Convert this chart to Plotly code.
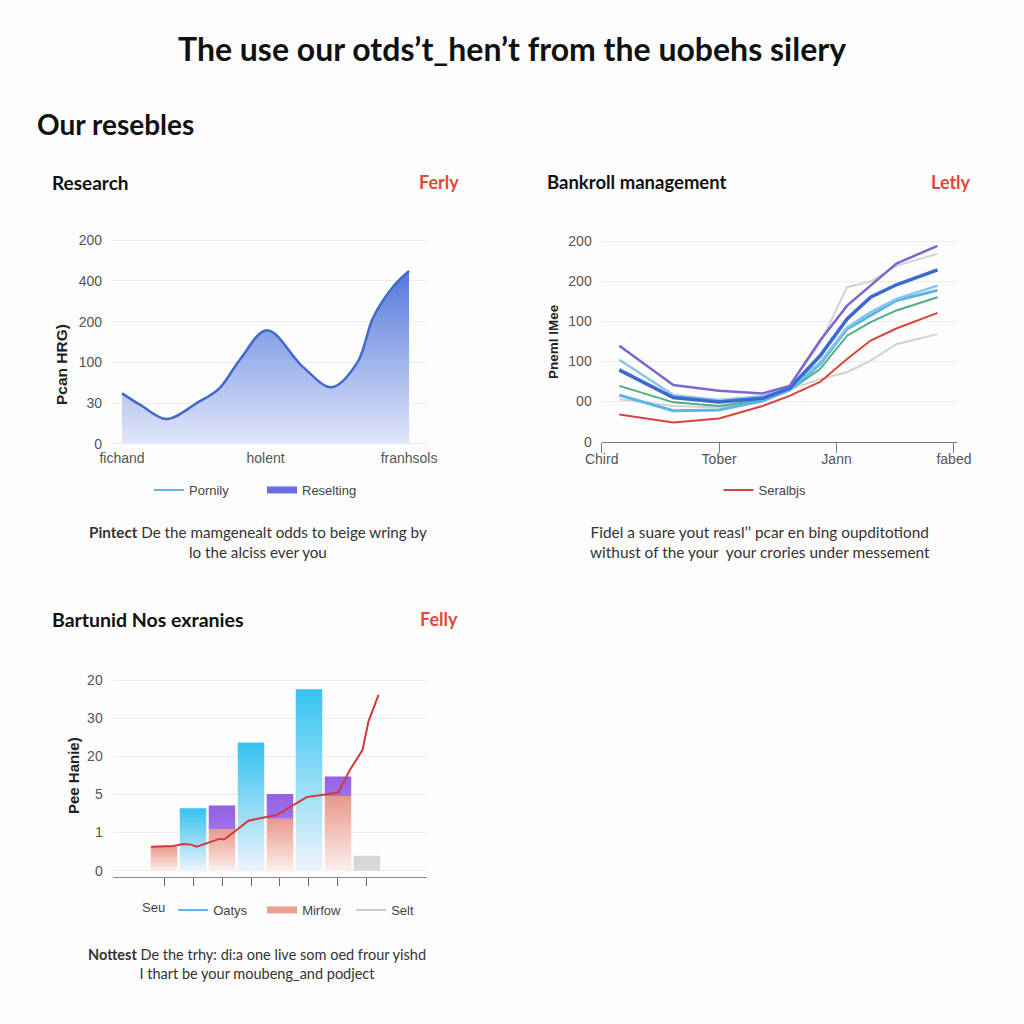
import plotly.graph_objects as go

# ---------------- Data ----------------
# Panel 1: Research (area)
research_ticks = ["0", "30", "100", "200", "400", "200"]
research_cats = ["fichand", "holent", "franhsols"]
research_x = [0, 0.13, 0.31, 0.52, 0.68, 0.82, 1.01, 1.26, 1.46, 1.64, 1.75, 1.89, 2.0]
research_y = [1.24, 0.95, 0.61, 1.0, 1.37, 2.06, 2.79, 1.89, 1.39, 2.0, 3.1, 3.86, 4.24]

# Panel 2: Bankroll management (lines)
bank_ticks = ["0", "00", "100", "100", "200", "200"]
bank_cats = ["Chird", "Tober", "Jann", "fabed"]
bank_x = [0.15, 0.61, 1.0, 1.37, 1.60, 1.86, 2.09, 2.29, 2.51, 2.86]
bank_gray_lo = [1.06, 0.89, 0.85, 0.99, 1.31, 1.56, 1.73, 2.02, 2.43, 2.68]
bank_gray_hi = [1.75, 1.08, 0.97, 1.10, 1.39, 2.45, 3.85, 3.99, 4.38, 4.68]
bank_red = [0.68, 0.48, 0.58, 0.89, 1.14, 1.49, 2.06, 2.52, 2.82, 3.21]
bank_green = [1.39, 0.98, 0.89, 1.04, 1.28, 1.81, 2.64, 2.98, 3.27, 3.60]
bank_cyan = [1.16, 0.77, 0.79, 1.02, 1.29, 1.93, 2.81, 3.14, 3.52, 3.77]
bank_lightblue = [2.04, 1.16, 1.04, 1.13, 1.33, 1.98, 2.85, 3.23, 3.56, 3.89]
bank_darkblue = [1.79, 1.10, 0.99, 1.08, 1.33, 2.14, 3.06, 3.60, 3.91, 4.28]
bank_purple = [2.39, 1.41, 1.27, 1.20, 1.39, 2.52, 3.39, 3.89, 4.44, 4.88]

# Panel 3: Bartunid Nos exranies (bars + line)
bar_ticks = ["0", "1", "5", "20", "30", "20"]
bar_idx = [0, 1, 2, 3, 4, 5, 6, 7]
bar_blue = [0, 1.64, 0, 3.36, 0, 4.76, 0, 0]
bar_salmon = [0.63, 0, 1.09, 0, 1.36, 0, 1.96, 0]
bar_purple = [0, 0, 0.62, 0, 0.65, 0, 0.51, 0]
bar_gray = [0, 0, 0, 0, 0, 0, 0, 0.39]
red_x = [-0.45, 0.32, 0.67, 0.9, 1.13, 1.59, 1.93, 2.08, 2.5, 2.91, 3.31, 3.89, 4.46,
         4.92, 5.49, 6.01, 6.41, 6.85, 7.05, 7.4]
red_y = [0.63, 0.65, 0.70, 0.69, 0.63, 0.745, 0.84, 0.82, 1.07, 1.31, 1.375, 1.46, 1.72,
         1.93, 1.99, 2.05, 2.64, 3.17, 3.91, 4.61]

# ---------------- Helpers ----------------
W = 1024.0
def px_x(p):
    return p / W
def px_y(p):
    return 1 - p / W

TICKFONT = dict(family="Liberation Sans, Arial, sans-serif", size=14, color="#555555")
LEGFONT = dict(family="Liberation Sans, Arial, sans-serif", size=13, color="#444444")
HEADFONT = "Lato, Open Sans, sans-serif"
RED = "#e0483a"

fig = go.Figure()

# ---- Panel 1 ----
fig.add_trace(go.Scatter(
    x=research_x, y=research_y, mode="lines", line=dict(color="#4169cc", width=2.5, shape="spline", smoothing=1.0),
    fill="tozeroy",
    fillgradient=dict(type="vertical", start=0, stop=4.3,
                      colorscale=[[0, "#e2e8fa"], [1, "#5378dc"]]),
    xaxis="x", yaxis="y", showlegend=False, hoverinfo="skip"))
fig.add_trace(go.Scatter(x=[None], y=[None], mode="lines", name="Pornily",
                         line=dict(color="#5bb8e8", width=2), xaxis="x", yaxis="y", legend="legend"))
fig.add_trace(go.Scatter(x=[None], y=[None], mode="lines", name="Reselting",
                         line=dict(color="#6a6ee0", width=7), xaxis="x", yaxis="y", legend="legend"))

# ---- Panel 2 ----
bank_series = [
    (bank_gray_lo, "#d2d2d2", 2),
    (bank_gray_hi, "#d2d2d2", 2),
    (bank_red, "#d8433b", 2),
    (bank_green, "#4cae84", 2),
    (bank_cyan, "#5cb4e6", 3),
    (bank_lightblue, "#8cc4ee", 2.5),
    (bank_darkblue, "#3a6ad0", 3.5),
    (bank_purple, "#7a68d0", 2.5),
]
for ys, col, w in bank_series:
    fig.add_trace(go.Scatter(x=bank_x, y=ys, mode="lines", line=dict(color=col, width=w),
                             xaxis="x2", yaxis="y2", showlegend=False, hoverinfo="skip"))
fig.add_trace(go.Scatter(x=[None], y=[None], mode="lines", name="Seralbjs",
                         line=dict(color="#d8433b", width=2), xaxis="x2", yaxis="y2", legend="legend2"))

# ---- Panel 3 ----
HALF = 0.457
def bar_poly(i, base, top, light, dark):
    fig.add_trace(go.Scatter(
        x=[i - HALF, i + HALF, i + HALF, i - HALF, i - HALF],
        y=[base, base, top, top, base], mode="lines", line=dict(width=0),
        fill="toself",
        fillgradient=dict(type="vertical", start=base, stop=top,
                          colorscale=[[0, light], [1, dark]]),
        xaxis="x3", yaxis="y3", showlegend=False, hoverinfo="skip"))

for i in bar_idx:
    if bar_blue[i] > 0:
        bar_poly(i, 0, bar_blue[i], "#eef3fb", "#34c3f0")
    if bar_salmon[i] > 0:
        bar_poly(i, 0, bar_salmon[i], "#fcefec", "#e8998a")
    if bar_purple[i] > 0:
        bar_poly(i, bar_salmon[i], bar_salmon[i] + bar_purple[i], "#a070ea", "#9460e2")
    if bar_gray[i] > 0:
        bar_poly(i, 0, bar_gray[i], "#dadada", "#d4d4d4")

fig.add_trace(go.Scatter(x=red_x, y=red_y, mode="lines", line=dict(color="#cf3b3b", width=2),
                         xaxis="x3", yaxis="y3", showlegend=False, hoverinfo="skip"))
fig.add_trace(go.Scatter(x=[None], y=[None], mode="lines", name="Oatys",
                         line=dict(color="#5bb8e8", width=2), xaxis="x3", yaxis="y3", legend="legend3"))
fig.add_trace(go.Scatter(x=[None], y=[None], mode="lines", name="Mirfow",
                         line=dict(color="#e8a090", width=7), xaxis="x3", yaxis="y3", legend="legend3"))
fig.add_trace(go.Scatter(x=[None], y=[None], mode="lines", name="Selt",
                         line=dict(color="#bbbbbb", width=1.5), xaxis="x3", yaxis="y3", legend="legend3"))

# ---------------- Axes ----------------
common_y = dict(showgrid=True, gridcolor="#ececec", gridwidth=1, zeroline=False, showline=False,
                tickfont=TICKFONT, ticks="", ticklabelstandoff=9, tickmode="array", automargin=False)

fig.update_layout(
    xaxis=dict(domain=[px_x(112), px_x(427)], range=[-0.07, 2.125], tickmode="array",
               tickvals=[0, 1, 2], ticktext=research_cats, showgrid=False, zeroline=False,
               showline=False, ticks="", tickfont=TICKFONT, anchor="y", automargin=False,
               ticklabelstandoff=-2),
    yaxis=dict(domain=[px_y(450), px_y(236)], range=[-0.15, 5.1],
               tickvals=list(range(6)), ticktext=research_ticks, anchor="x", **common_y),
    xaxis2=dict(domain=[px_x(601.7), px_x(957)], range=[0, 3.026], tickmode="array",
                tickvals=[0, 1, 2, 3], ticktext=bank_cats, showgrid=False, zeroline=False,
                showline=True, linecolor="#7a7a7a", linewidth=1.2, ticks="outside", ticklen=10,
                tickcolor="#7a7a7a", tickwidth=1.2, tickfont=TICKFONT, anchor="y2", automargin=False,
                ticklabelstandoff=-6),
    yaxis2=dict(domain=[px_y(441.7), px_y(237)], range=[0, 5.1],
                tickvals=list(range(6)), ticktext=bank_ticks, anchor="x2", **common_y),
    xaxis3=dict(domain=[px_x(112.7), px_x(426.7)], range=[-1.77, 9.06], tickmode="array",
                tickvals=bar_idx, showticklabels=False, showgrid=False, zeroline=False,
                showline=True, linecolor="#8a8a8a", linewidth=1.2, ticks="outside", ticklen=8,
                tickcolor="#6a6a6a", tickwidth=1.2, anchor="y3", automargin=False),
    yaxis3=dict(domain=[px_y(876.8), px_y(676.2)], range=[-0.16, 5.1],
                tickvals=list(range(6)), ticktext=bar_ticks, anchor="x3", **common_y),
)

# ---------------- Legends ----------------
fig.update_layout(
    legend=dict(x=px_x(262), y=px_y(490), xanchor="center", yanchor="middle", orientation="h",
                font=LEGFONT, bgcolor="rgba(0,0,0,0)", itemwidth=30, entrywidth=68),
    legend2=dict(x=px_x(765), y=px_y(490), xanchor="center", yanchor="middle", orientation="h",
                 font=LEGFONT, bgcolor="rgba(0,0,0,0)", itemwidth=30),
    legend3=dict(x=px_x(140), y=px_y(910), xanchor="left", yanchor="middle", orientation="h",
                 font=LEGFONT, bgcolor="rgba(0,0,0,0)", itemwidth=30, entrywidth=44,
                 title=dict(text="Seu", side="left", font=LEGFONT)),
)

# ---------------- Text ----------------
ann = []
def txt(text, x, y, size, color="#111111", family=HEADFONT, xanchor="left", angle=0, align="left"):
    ann.append(dict(text=text, x=px_x(x), y=px_y(y), xref="paper", yref="paper", showarrow=False,
                    xanchor=xanchor, yanchor="middle", textangle=angle, align=align,
                    font=dict(family=family, size=size, color=color)))

txt("<b>The use our otds’t_hen’t from the uobehs silery</b>", 512, 48, 32, xanchor="center")
txt("<b>Our resebles</b>", 35, 124, 28)
txt("<b>Research</b>", 50, 182, 19)
txt("<b>Ferly</b>", 461, 182, 18, color=RED, xanchor="right")
txt("<b>Bankroll management</b>", 545, 182, 18.5)
txt("<b>Letly</b>", 973, 182, 18, color=RED, xanchor="right")
txt("<b>Bartunid Nos exranies</b>", 50, 619, 19.5)
txt("<b>Felly</b>", 460, 619, 18, color=RED, xanchor="right")

ytfont = "Liberation Sans, Arial, sans-serif"
txt("<b>Pcan HRG)</b>", 61, 365, 15.5, color="#222222", family=ytfont, xanchor="center", angle=-90)
txt("<b>Pneml IMee</b>", 553, 342, 13.5, color="#222222", family=ytfont, xanchor="center", angle=-90)
txt("<b>Pee Hanie)</b>", 73, 776, 15, color="#222222", family=ytfont, xanchor="center", angle=-90)

capfont = "Lato, Open Sans, sans-serif"
txt("<b>Pintect</b> De the mamgenealt odds to beige wring by<br>lo the alciss ever you",
    258, 542, 15.2, color="#333333", family=capfont, xanchor="center", align="center")
txt("Fidel a suare yout reasl’’ pcar en bing oupditotiond<br>withust of the your  your crories under messement",
    760, 542, 15.4, color="#333333", family=capfont, xanchor="center", align="center")
txt("<b>Nottest</b> De the trhy: di:a one live som oed frour yishd<br>I thart be your moubeng_and podject",
    257, 964, 14.5, color="#333333", family=capfont, xanchor="center", align="center")

fig.update_layout(
    annotations=ann,
    width=1024, height=1024,
    margin=dict(l=0, r=0, t=0, b=0, autoexpand=False),
    paper_bgcolor="#fdfdfd", plot_bgcolor="rgba(0,0,0,0)",
    hovermode=False,
)

fig.write_html("out.html")
